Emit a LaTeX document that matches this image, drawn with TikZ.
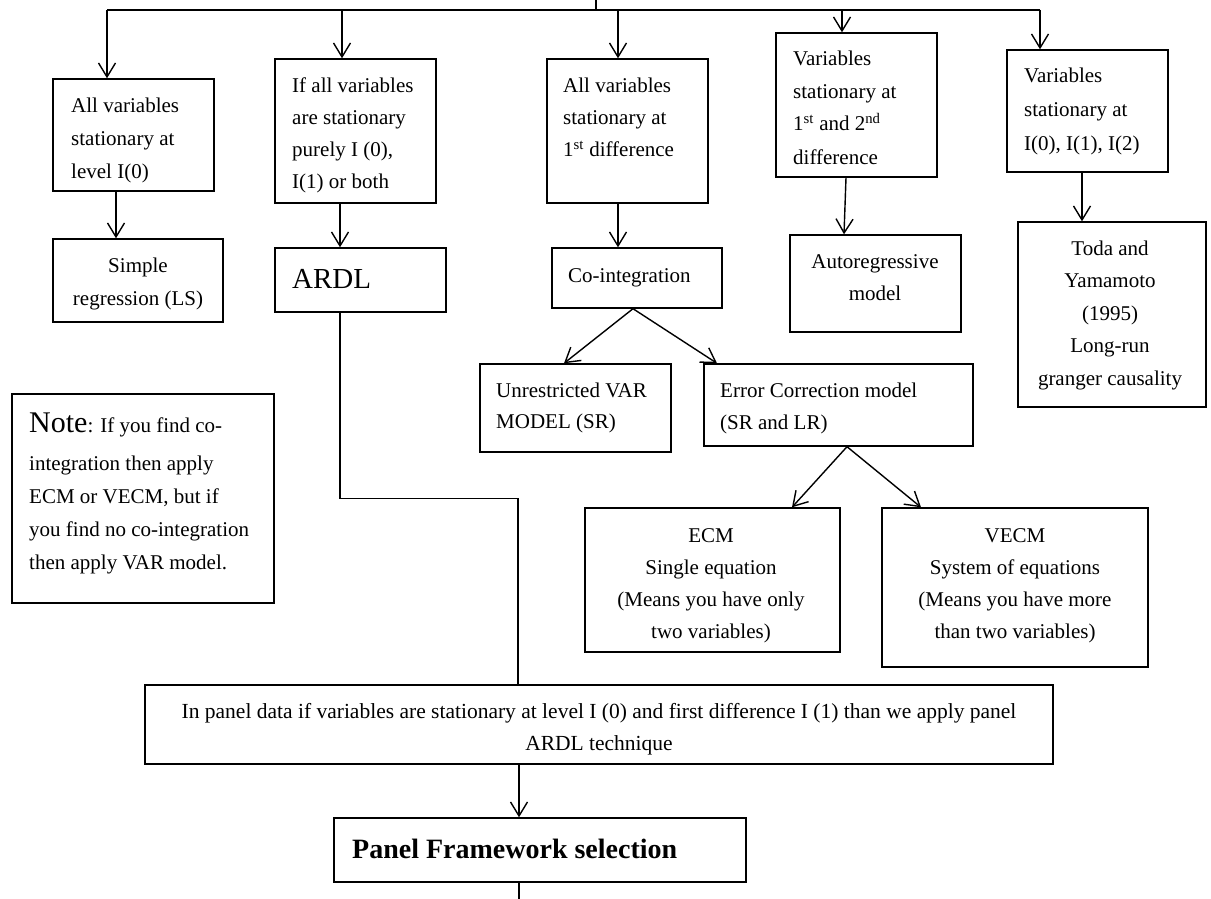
\documentclass[tikz,border=0pt]{standalone}
\usepackage{fontspec}
\setmainfont{Liberation Serif}
\usetikzlibrary{arrows.meta,fit}
\begin{document}
\begin{tikzpicture}[x=1pt,y=-1pt,
 bx/.style={draw=black,line width=1.4pt,inner sep=0pt},
 txt/.style={inner sep=0pt,font=\fontsize{21}{33}\selectfont},
 tl/.style={txt,align=left,anchor=base west},
 tc/.style={txt,align=center,anchor=base},
 ln/.style={draw=black,line width=1.4pt},
 arr/.style={ln,-{Straight Barb[length=14pt,width=17pt,line width=1.4pt]}}]
\useasboundingbox (0,0) rectangle (1211,899);

% boxes
\node[bx,fit={(53,79) (214,191)}] (b1) {};
\node[bx,fit={(275,59) (436,203)}] (b2) {};
\node[bx,fit={(547,59) (708,203)}] (b3) {};
\node[bx,fit={(776,33) (937,177)}] (b4) {};
\node[bx,fit={(1007,50) (1168,172)}] (b5) {};
\node[bx,fit={(53,239) (223,322)}] (sr) {};
\node[bx,fit={(275,248) (446,312)}] (ardl) {};
\node[bx,fit={(552,248) (722,308)}] (coint) {};
\node[bx,fit={(790,235) (961,332)}] (auto) {};
\node[bx,fit={(1018,222) (1206,407)}] (toda) {};
\node[bx,fit={(12,394) (274,603)}] (note) {};
\node[bx,fit={(480,364) (671,452)}] (unres) {};
\node[bx,fit={(704,364) (973,446)}] (ecmod) {};
\node[bx,fit={(585,508) (840,652)}] (ecm) {};
\node[bx,fit={(882,508) (1148,667)}] (vecm) {};
\node[bx,fit={(145,685) (1053,764)}] (panel) {};
\node[bx,fit={(334,818) (746,882)}] (pf) {};

% texts (anchored at the baseline of the last line)
\node[tl] (t1) at (71,178) {All variables\\stationary at\\level I(0)};
\node[tl,font=\fontsize{21}{32}\selectfont] (t2) at (292,188) {If all variables\\are stationary\\purely I (0),\\I(1) or both};
\node[tl,font=\fontsize{21}{32.5}\selectfont] (t3) at (563,157) {All variables\\stationary at\\1\textsuperscript{st} difference};
\node[tl] (t4) at (793,164) {Variables\\stationary at\\1\textsuperscript{st} and 2\textsuperscript{nd}\\difference};
\node[tl,font=\fontsize{21}{34}\selectfont] (t5) at (1024,150) {Variables\\stationary at\\I(0), I(1), I(2)};
\node[tc] (tsr) at (138,305) {Simple\\regression (LS)};
\node[tl,font=\fontsize{29}{36}\selectfont] (tardl) at (292,288) {ARDL};
\node[tl] (tcoint) at (568,282) {Co-integration};
\node[tc,font=\fontsize{21}{32}\selectfont] (tauto) at (875,300) {Autoregressive\\model};
\node[tc,font=\fontsize{21}{32.5}\selectfont] (ttoda) at (1110,385) {Toda and\\Yamamoto\\(1995)\\Long-run\\granger causality};
\node[tl,font=\fontsize{21}{33}\selectfont] (tnote) at (29,569) {{\fontsize{30}{33}\selectfont Note}: If you find co-\\[5pt]integration then apply\\ECM or VECM, but if\\you find no co-integration\\then apply VAR model.};
\node[tl,font=\fontsize{21}{31}\selectfont] (tunres) at (496,428) {Unrestricted VAR\\MODEL (SR)};
\node[tl,font=\fontsize{21}{32}\selectfont] (tecmod) at (720,429) {Error Correction model\\(SR and LR)};
\node[tc,font=\fontsize{21}{32}\selectfont] (tecm) at (711,638) {ECM\\Single equation\\(Means you have only\\two variables)};
\node[tc,font=\fontsize{21}{32}\selectfont] (tvecm) at (1015,638) {VECM\\System of equations\\(Means you have more\\than two variables)};
\node[tc,font=\fontsize{21.5}{32}\selectfont] (tpanel) at (599,750) {In panel data if variables are stationary at level I (0) and first difference I (1) than we apply panel\\ARDL technique};
\node[tl,font=\fontsize{28}{34}\bfseries\selectfont] (tpf) at (352,858) {Panel Framework selection};

% top distribution
\coordinate (top) at (596,0);
\coordinate (hub) at (596,10);
\coordinate (h1) at (107,10);
\coordinate (h2) at (342,10);
\coordinate (h3) at (618,10);
\coordinate (h4) at (842,10);
\coordinate (h5) at (1040,10);
\draw[ln] (top) -- (hub);
\draw[ln] (h1) -- (h5);
\draw[arr] (h1) -- (h1 |- b1.north);
\draw[arr] (h2) -- (h2 |- b2.north);
\draw[arr] (h3) -- (h3 |- b3.north);
\draw[arr] (h4) -- (h4 |- b4.north);
\draw[arr] (h5) -- (h5 |- b5.north);

% second level
\draw[arr] ([xshift=-17.5pt]b1.south) -- ([xshift=-22pt]sr.north);
\draw[arr] ([xshift=-15.5pt]b2.south) -- ([xshift=-20.5pt]ardl.north);
\draw[arr] ([xshift=-9.5pt]b3.south) -- ([xshift=-19pt]coint.north);
\draw[arr] ([xshift=-10.5pt]b4.south) -- ([xshift=-31.5pt]auto.north);
\draw[arr] ([xshift=-5.5pt]b5.south) -- ([xshift=-30pt]toda.north);

% co-integration split
\draw[arr] ([xshift=-4pt]coint.south) -- ([xshift=-11.5pt]unres.north);
\draw[arr] ([xshift=-4pt]coint.south) -- ([xshift=-121.5pt]ecmod.north);
\draw[arr] ([xshift=8.5pt]ecmod.south) -- ([xshift=79.5pt]ecm.north);
\draw[arr] ([xshift=8.5pt]ecmod.south) -- ([xshift=-94pt]vecm.north);

% ARDL to panel
\draw[ln] ([xshift=-20.5pt]ardl.south) -- ++(0,186) -| ([xshift=-81pt]panel.north);
\draw[arr] ([xshift=-80pt]panel.south) -- ([xshift=-21pt]pf.north);
\coordinate (end) at (519,899);
\draw[ln] ([xshift=-21pt]pf.south) -- (end);
\end{tikzpicture}
\end{document}
